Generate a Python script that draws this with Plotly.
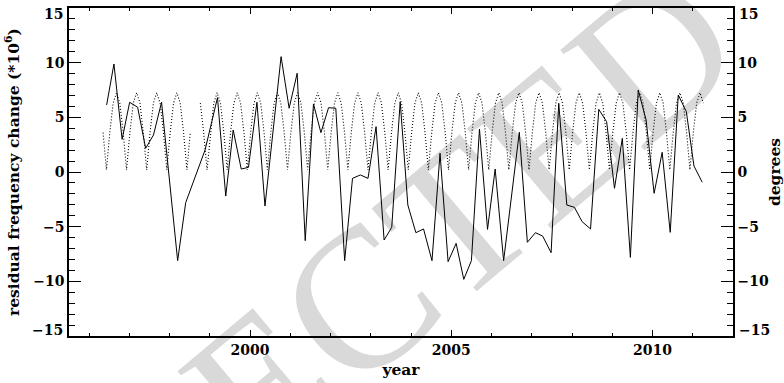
import plotly.graph_objects as go

# Residual frequency change (x 10^6) per ~72-day time series
years = [
    1996.435, 1996.617, 1996.82, 1997.007, 1997.206, 1997.405, 1997.60, 1997.80,
    1998.20, 1998.40, 1998.88, 1999.19, 1999.395, 1999.58, 1999.78, 1999.96,
    2000.17, 2000.37, 2000.77, 2000.97, 2001.17, 2001.37, 2001.575, 2001.76,
    2001.95, 2002.13, 2002.35, 2002.545, 2002.74, 2002.93, 2003.13, 2003.33,
    2003.52, 2003.73, 2003.92, 2004.12, 2004.31, 2004.52, 2004.72, 2004.92,
    2005.12, 2005.31, 2005.50, 2005.70, 2005.90, 2006.09, 2006.30, 2006.69,
    2006.89, 2007.09, 2007.27, 2007.48, 2007.67, 2007.87, 2008.06, 2008.25,
    2008.46, 2008.665, 2008.86, 2009.055, 2009.25, 2009.45, 2009.645, 2009.84,
    2010.04, 2010.24, 2010.44, 2010.64, 2010.84, 2011.03, 2011.235,
]
resid = [
    6.13, 9.88, 2.99, 6.38, 5.92, 2.17, 3.39, 6.38,
    -8.11, -2.8, 2.0, 6.8, -2.2, 3.84, 0.27, 0.43,
    6.38, -3.11, 10.55, 5.83, 9.03, -6.28, 6.22, 3.6,
    5.88, 5.83, -8.11, -0.58, -0.27, -0.58, 4.15, -6.22,
    -5.06, 6.43, -3.02, -5.55, -5.21, -8.11, 1.71, -8.2,
    -6.53, -9.82, -8.11, 3.93, -5.25, 0.27, -8.11, 3.63,
    -6.43, -5.55, -5.86, -7.38, 6.28, -3.02, -3.23, -4.54,
    -5.21, 5.73, 4.6, -1.49, 3.08, -7.81, 7.5, 4.76,
    -1.95, 1.8, -5.52, 7.04, 5.52, 0.55, -0.94,
]

# |B0| angle in degrees, one value per month starting 1996.347 (None = no data)
b0_start = 1996.347
b0_step = 1.0 / 12.0
b0_deg = [
    3.6, 0.2, 3.6, 6.3, 7.25, 6.3,   # 1996
    3.6, 0.2, 3.6, 6.3, 7.25, 6.3,
    3.6, 0.2, 3.6, 6.3, 7.25, 6.3,   # 1997
    3.6, 0.2, 3.6, 6.3, 7.25, 6.3,
    3.6, 0.2, 3.6, None, None, 6.3,  # 1998
    3.6, 0.2, 3.6, 6.3, 7.25, 6.3,
    3.6, 0.2, 3.6, 6.3, 7.25, 6.3,   # 1999
    3.6, 0.2, 3.6, 6.3, 7.25, 6.3,
    3.6, 0.2, 3.6, 6.3, 7.25, 6.3,   # 2000
    3.6, 0.2, 3.6, 6.3, 7.25, 6.3,
    3.6, 0.2, 3.6, 6.3, 7.25, 6.3,   # 2001
    3.6, 0.2, 3.6, 6.3, 7.25, 6.3,
    3.6, 0.2, 3.6, 6.3, 7.25, 6.3,   # 2002
    3.6, 0.2, 3.6, 6.3, 7.25, 6.3,
    3.6, 0.2, 3.6, 6.3, 7.25, 6.3,   # 2003
    3.6, 0.2, 3.6, 6.3, 7.25, 6.3,
    3.6, 0.2, 3.6, 6.3, 7.25, 6.3,   # 2004
    3.6, 0.2, 3.6, 6.3, 7.25, 6.3,
    3.6, 0.2, 3.6, 6.3, 7.25, 6.3,   # 2005
    3.6, 0.2, 3.6, 6.3, 7.25, 6.3,
    3.6, 0.2, 3.6, 6.3, 7.25, 6.3,   # 2006
    3.6, 0.2, 3.6, 6.3, 7.25, 6.3,
    3.6, 0.2, 3.6, 6.3, 7.25, 6.3,   # 2007
    3.6, 0.2, 3.6, 6.3, 7.25, 6.3,
    3.6, 0.2, 3.6, 6.3, 7.25, 6.3,   # 2008
    3.6, 0.2, 3.6, 6.3, 7.25, 6.3,
    3.6, 0.2, 3.6, 6.3, 7.25, 6.3,   # 2009
    3.6, 0.2, 3.6, 6.3, 7.25, 6.3,
    3.6, 0.2, 3.6, 6.3, 7.25, 6.3,   # 2010
    3.6, 0.2, 3.6, 6.3, 7.25, 6.3,
]
b0_t = [b0_start + i * b0_step for i in range(len(b0_deg))]

year_ticks = [2000, 2005, 2010]
y_range = [-15, 15]
y_inner_ticks = [-10, -5, 0, 5, 10]

FONT = "DejaVu Serif"
TICK_FONT = dict(family=FONT, size=14, color="black", weight="bold")
TITLE_FONT = dict(family=FONT, size=15.5, color="black", weight="bold")

fig = go.Figure()
fig.add_trace(go.Scatter(
    x=b0_t, y=b0_deg, mode="lines", yaxis="y2", connectgaps=False,
    line=dict(color="black", width=1.1, dash="1px,2px"), showlegend=False,
))
fig.add_trace(go.Scatter(
    x=years, y=resid, mode="lines",
    line=dict(color="black", width=1), showlegend=False,
))

# light diagonal stamp behind the data
fig.add_shape(
    type="rect", xref="paper", yref="paper", x0=0.605, x1=0.705, y0=0.513, y1=0.613,
    line=dict(width=0), fillcolor="rgba(0,0,0,0)", layer="below",
    label=dict(text="CORRECTED PROOF", textangle=-40, textposition="middle center",
               font=dict(family="Liberation Serif", size=200, color="#d9d9d9")),
)

# end labels of the vertical scales sit just inside the frame corners
for yv, shift in ((y_range[1], -6), (y_range[0], 6)):
    txt = str(yv).replace("-", "\u2212")
    fig.add_annotation(x=0, xref="paper", y=yv, yref="y", text=txt, showarrow=False,
                       xanchor="right", yshift=shift, xshift=-5, borderpad=0,
                       font=TICK_FONT)
    fig.add_annotation(x=1, xref="paper", y=yv, yref="y", text=txt, showarrow=False,
                       xanchor="left", yshift=shift, xshift=5, borderpad=0,
                       font=TICK_FONT)

axis_common = dict(
    showline=True, linecolor="black", linewidth=1.5, automargin=False,
    ticks="inside", tickcolor="black", tickwidth=1.3, ticklabeloverflow="allow",
    showgrid=False, zeroline=False, tickfont=TICK_FONT,
)

fig.update_layout(
    width=784, height=383,
    margin=dict(l=69, r=51, t=8, b=47),
    paper_bgcolor="white", plot_bgcolor="rgba(0,0,0,0)",
    xaxis=dict(
        range=[1995.5, 2012], tickvals=year_ticks, ticklen=6, mirror="ticks",
        minor=dict(ticks="inside", ticklen=3, dtick=1, tick0=2000, tickcolor="black", tickwidth=1.2),
        title=dict(text="year", font=TITLE_FONT, standoff=8),
        **axis_common,
    ),
    yaxis=dict(
        range=y_range, tickvals=y_inner_ticks, ticklen=12,
        minor=dict(ticks="inside", ticklen=6, dtick=1, tick0=0, tickcolor="black", tickwidth=1.2),
        title=dict(text="residual frequency change (*10<sup>6</sup>)", font=TITLE_FONT, standoff=10),
        **axis_common,
    ),
    yaxis2=dict(
        range=y_range, tickvals=y_inner_ticks, ticklen=12, overlaying="y", side="right",
        minor=dict(ticks="inside", ticklen=6, dtick=1, tick0=0, tickcolor="black", tickwidth=1.2),
        title=dict(text="degrees", font=TITLE_FONT, standoff=10),
        **axis_common,
    ),
)

fig.write_html("out.html")
